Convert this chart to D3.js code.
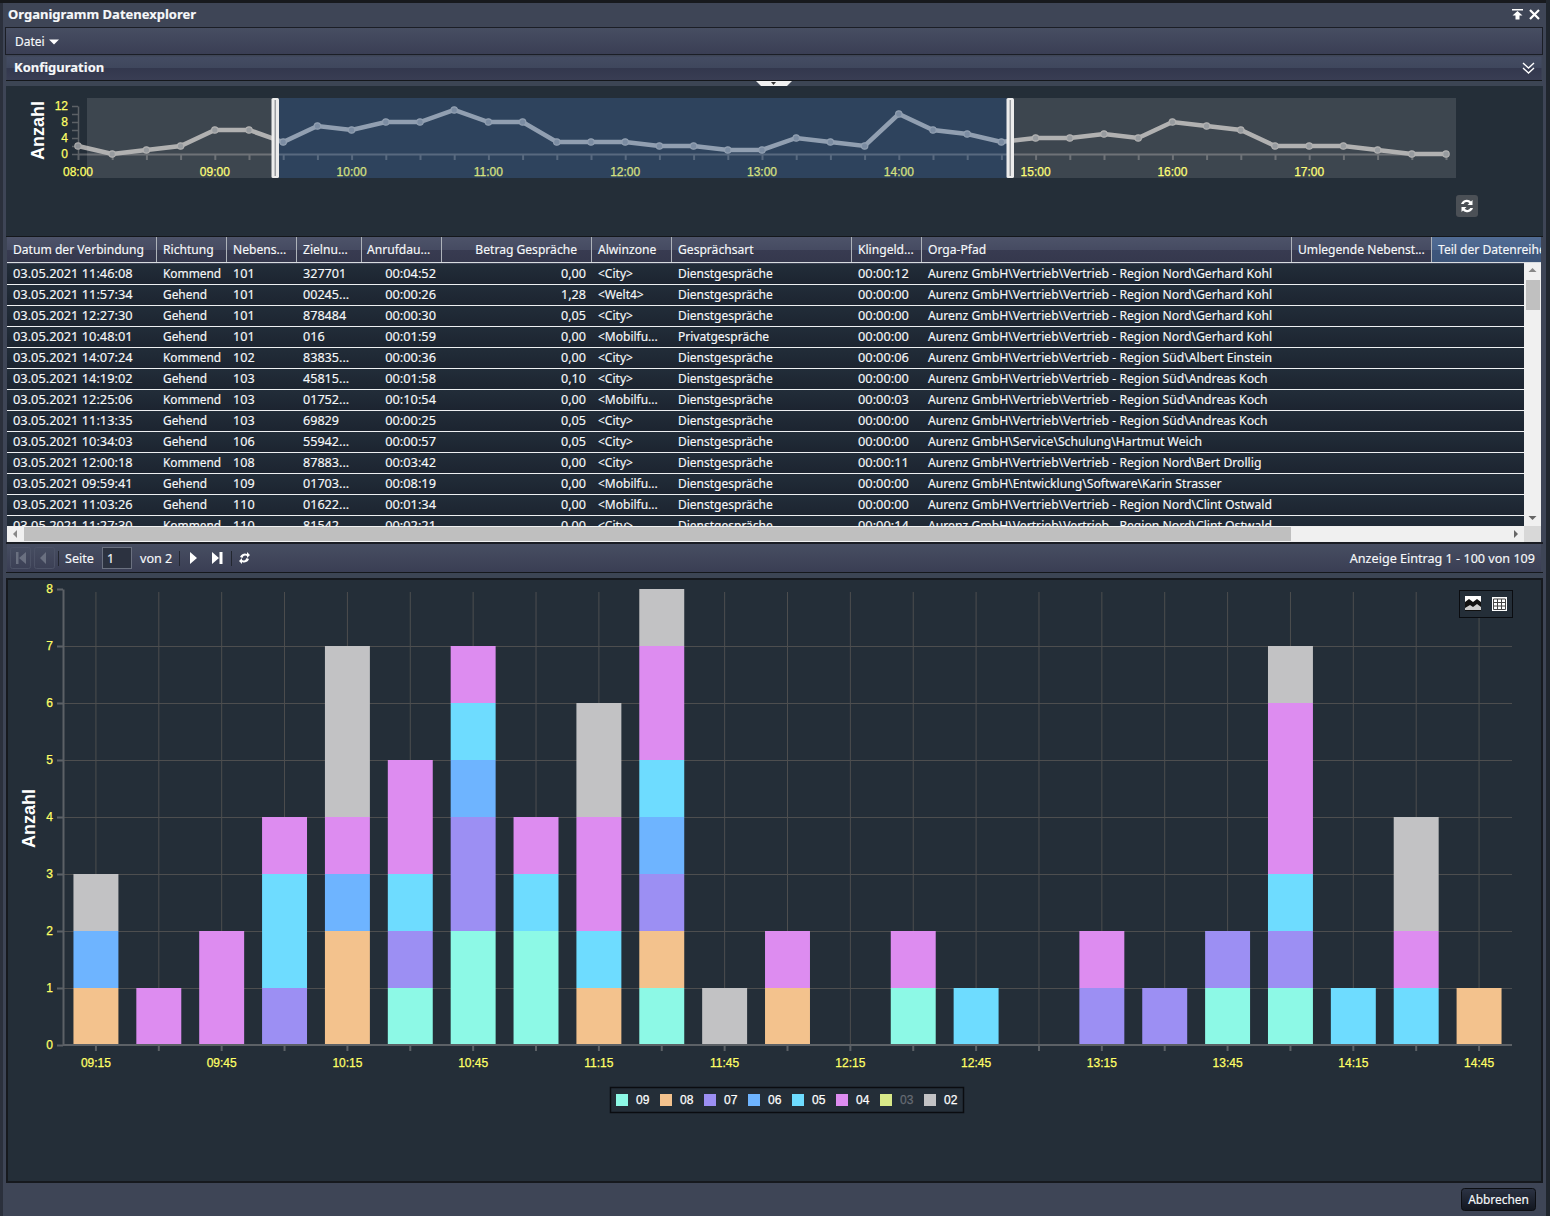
<!DOCTYPE html>
<html>

<head>
    <meta charset="utf-8">
    <title>Organigramm Datenexplorer</title>
    <script src="https://d3js.org/d3.v7.min.js"></script>
    <style>
        body {
            margin: 0;
            background: #3e4556;
        }

        svg {
            display: block;
        }

        .ui {
            font-family: "Noto Sans", sans-serif;
            font-size: 12.6px;
            fill: #f6f8fa;
            stroke: #f6f8fa;
            stroke-width: 0.15px;
        }

        .chart-label {
            font-family: "Liberation Sans", Arial, sans-serif;
            font-size: 12px;
            fill: #ffff66;
            stroke: #ffff66;
            stroke-width: 0.25px;
        }

        .axis path,
        .axis line {
            stroke: #5c6166;
        }

        .grid line {
            stroke: #4d4e4f;
        }

        .grid path {
            display: none;
        }
    </style>
</head>

<body>
    <svg width="1550" height="1216"></svg>
    <script>
        // Overview line: calls per 15 minutes
        const overviewTimes = [
            "08:00", "08:15", "08:30", "08:45", "09:00", "09:15", "09:30", "09:45", "10:00", "10:15", "10:30",
            "10:45", "11:00", "11:15", "11:30", "11:45", "12:00", "12:15", "12:30", "12:45", "13:00", "13:15",
            "13:30", "13:45", "14:00", "14:15", "14:30", "14:45", "15:00", "15:15", "15:30", "15:45", "16:00",
            "16:15", "16:30", "16:45", "17:00", "17:15", "17:30", "17:45", "18:00"
        ];
        const overviewValues = [
            2, 0, 1, 2, 6, 6, 3, 7, 6, 8, 8, 11, 8, 8, 3, 3, 3, 2, 2, 1, 1, 4, 3, 2, 10, 6, 5, 3, 4, 4, 5, 4, 8, 7, 6, 2, 2, 2, 1, 0, 0
        ];
        const overviewHours = ["08:00", "09:00", "10:00", "11:00", "12:00", "13:00", "14:00", "15:00", "16:00", "17:00"];
        const overviewTicks = [0, 4, 8, 12];

        // Stacked bars
        const barTimes = [
            "09:15", "09:30", "09:45", "10:00", "10:15", "10:30", "10:45", "11:00", "11:15", "11:30", "11:45", "12:00",
            "12:15", "12:30", "12:45", "13:00", "13:15", "13:30", "13:45", "14:00", "14:15", "14:30", "14:45"
        ];
        const series09 = [0, 0, 0, 0, 0, 1, 2, 2, 0, 1, 0, 0, 0, 1, 0, 0, 0, 0, 1, 1, 0, 0, 0];
        const series08 = [1, 0, 0, 0, 2, 0, 0, 0, 1, 1, 0, 1, 0, 0, 0, 0, 0, 0, 0, 0, 0, 0, 1];
        const series07 = [0, 0, 0, 1, 0, 1, 2, 0, 0, 1, 0, 0, 0, 0, 0, 0, 1, 1, 1, 1, 0, 0, 0];
        const series06 = [1, 0, 0, 0, 1, 0, 1, 0, 0, 1, 0, 0, 0, 0, 0, 0, 0, 0, 0, 0, 0, 0, 0];
        const series05 = [0, 0, 0, 2, 0, 1, 1, 1, 1, 1, 0, 0, 0, 0, 1, 0, 0, 0, 0, 1, 1, 1, 0];
        const series04 = [0, 1, 2, 1, 1, 2, 1, 1, 2, 2, 0, 1, 0, 1, 0, 0, 1, 0, 0, 3, 0, 1, 0];
        const series03 = [0, 0, 0, 0, 0, 0, 0, 0, 0, 0, 0, 0, 0, 0, 0, 0, 0, 0, 0, 0, 0, 0, 0];
        const series02 = [1, 0, 0, 0, 3, 0, 0, 0, 2, 1, 1, 0, 0, 0, 0, 0, 0, 0, 0, 1, 0, 2, 0];
        const seriesNames = ["09", "08", "07", "06", "05", "04", "03", "02"];
        const seriesValues = [series09, series08, series07, series06, series05, series04, series03, series02];
        const seriesColors = ["#8df9e6", "#f3c28d", "#9c8ff3", "#6eb4ff", "#6edcff", "#dd8cf0", "#d8e888", "#c2c2c4"];

        // Table columns
        const headers = [
            "Datum der Verbindung", "Richtung", "Nebens...", "Zielnu...", "Anrufdau...", "Betrag Gespräche", "Alwinzone",
            "Gesprächsart", "Klingeld...", "Orga-Pfad", "Umlegende Nebenst...", "Teil der Datenreihe"
        ];
        const callDates = [
            "03.05.2021 11:46:08", "03.05.2021 11:57:34", "03.05.2021 12:27:30", "03.05.2021 10:48:01", "03.05.2021 14:07:24",
            "03.05.2021 14:19:02", "03.05.2021 12:25:06", "03.05.2021 11:13:35", "03.05.2021 10:34:03", "03.05.2021 12:00:18",
            "03.05.2021 09:59:41", "03.05.2021 11:03:26", "03.05.2021 11:27:30"
        ];
        const directions = ["Kommend", "Gehend", "Gehend", "Gehend", "Kommend", "Gehend", "Kommend", "Gehend", "Gehend", "Kommend", "Gehend", "Gehend", "Kommend"];
        const extensions = ["101", "101", "101", "101", "102", "103", "103", "103", "106", "108", "109", "110", "110"];
        const targets = ["327701", "00245...", "878484", "016", "83835...", "45815...", "01752...", "69829", "55942...", "87883...", "01703...", "01622...", "81542..."];
        const durations = ["00:04:52", "00:00:26", "00:00:30", "00:01:59", "00:00:36", "00:01:58", "00:10:54", "00:00:25", "00:00:57", "00:03:42", "00:08:19", "00:01:34", "00:02:21"];
        const amounts = ["0,00", "1,28", "0,05", "0,00", "0,00", "0,10", "0,00", "0,05", "0,05", "0,00", "0,00", "0,00", "0,00"];
        const zones = ["<City>", "<Welt4>", "<City>", "<Mobilfu...", "<City>", "<City>", "<Mobilfu...", "<City>", "<City>", "<City>", "<Mobilfu...", "<Mobilfu...", "<City>"];
        const callTypes = [
            "Dienstgespräche", "Dienstgespräche", "Dienstgespräche", "Privatgespräche", "Dienstgespräche", "Dienstgespräche", "Dienstgespräche",
            "Dienstgespräche", "Dienstgespräche", "Dienstgespräche", "Dienstgespräche", "Dienstgespräche", "Dienstgespräche"
        ];
        const ringTimes = ["00:00:12", "00:00:00", "00:00:00", "00:00:00", "00:00:06", "00:00:00", "00:00:03", "00:00:00", "00:00:00", "00:00:11", "00:00:00", "00:00:00", "00:00:14"];
        const orgPaths = [
            "Aurenz GmbH\\Vertrieb\\Vertrieb - Region Nord\\Gerhard Kohl",
            "Aurenz GmbH\\Vertrieb\\Vertrieb - Region Nord\\Gerhard Kohl",
            "Aurenz GmbH\\Vertrieb\\Vertrieb - Region Nord\\Gerhard Kohl",
            "Aurenz GmbH\\Vertrieb\\Vertrieb - Region Nord\\Gerhard Kohl",
            "Aurenz GmbH\\Vertrieb\\Vertrieb - Region Süd\\Albert Einstein",
            "Aurenz GmbH\\Vertrieb\\Vertrieb - Region Süd\\Andreas Koch",
            "Aurenz GmbH\\Vertrieb\\Vertrieb - Region Süd\\Andreas Koch",
            "Aurenz GmbH\\Vertrieb\\Vertrieb - Region Süd\\Andreas Koch",
            "Aurenz GmbH\\Service\\Schulung\\Hartmut Weich",
            "Aurenz GmbH\\Vertrieb\\Vertrieb - Region Nord\\Bert Drollig",
            "Aurenz GmbH\\Entwicklung\\Software\\Karin Strasser",
            "Aurenz GmbH\\Vertrieb\\Vertrieb - Region Nord\\Clint Ostwald",
            "Aurenz GmbH\\Vertrieb\\Vertrieb - Region Nord\\Clint Ostwald"
        ];
        const tableColumns = [callDates, directions, extensions, targets, durations, amounts, zones, callTypes, ringTimes, orgPaths];

        const svg = d3.select("svg");
        const defs = svg.append("defs");

        // helpers
        function gradient(id, stops) {
            const g = defs.append("linearGradient").attr("id", id).attr("x1", 0).attr("y1", 0).attr("x2", 0).attr("y2", 1);
            stops.forEach(s => g.append("stop").attr("offset", s[0]).attr("stop-color", s[1]));
        }
        function box(parent, x, y, w, h, fill) {
            return parent.append("rect").attr("x", x).attr("y", y).attr("width", w).attr("height", h).attr("fill", fill);
        }
        function label(parent, x, y, str, cls) {
            return parent.append("text").attr("class", cls || "ui").attr("x", x).attr("y", y).text(str);
        }
        function clip(id, x, y, w, h) {
            defs.append("clipPath").attr("id", id).append("rect").attr("x", x).attr("y", y).attr("width", w).attr("height", h);
        }

        gradient("barGrad", [[0, "#474e62"], [1, "#3a3e54"]]);
        gradient("splitGrad", [[0, "#444c63"], [0.46, "#3f475d"], [0.5, "#33384e"], [1, "#393d53"]]);
        gradient("headGrad", [[0, "#4d5369"], [0.5, "#464b62"], [0.52, "#383b51"], [1, "#35384d"]]);
        gradient("headBlue", [[0, "#516c94"], [0.5, "#4a648c"], [0.52, "#3e567c"], [1, "#3c5478"]]);
        gradient("rowGrad", [[0, "#222d39"], [1, "#1c2430"]]);
        gradient("btnGrad", [[0, "#2c3344"], [1, "#12161f"]]);

        // ---- window chrome ----
        const chrome = svg.append("g");
        box(chrome, 0, 0, 1550, 1216, "#3e4556");
        box(chrome, 0, 0, 1550, 3, "#17191d");
        box(chrome, 1546, 0, 4, 1216, "#20262e");
        box(chrome, 0, 3, 3, 1213, "#2b303c");
        label(chrome, 8, 19, "Organigramm Datenexplorer").style("font-weight", "bold").style("font-size", "13px");

        // pin and close icons
        chrome.append("path").attr("d", "M1512 9h11v1.5h-11zM1517.5 11l5 4.5h-3v4h-4v-4h-3z").attr("fill", "#fff");
        chrome.append("path").attr("d", "M1530 10l9 9M1539 10l-9 9").attr("stroke", "#fff").attr("stroke-width", 2.2);

        // menu bar
        box(chrome, 5.5, 27.5, 1537, 27, "url(#barGrad)").attr("stroke", "#1b1e26");
        label(chrome, 15, 46, "Datei").style("font-size", "12px");
        chrome.append("path").attr("d", "M49 39.500h10l-5 5z").attr("fill", "#fff");

        // Konfiguration header
        box(chrome, 6.5, 56.5, 1535, 24, "url(#splitGrad)").attr("stroke", "none");
        box(chrome, 6, 80, 1536, 1, "#14171b");
        label(chrome, 14, 72, "Konfiguration").style("font-weight", "bold").style("font-size", "13px");
        chrome.append("path").attr("d", "M1523 63l5.5 5 5.5-5M1523 68l5.5 5 5.5-5").attr("fill", "none").attr("stroke", "#fff").attr("stroke-width", 1.4);
        box(chrome, 6, 81, 1536, 5, "#3c4554");
        chrome.append("path").attr("d", "M756 81h36l-5 5h-26z").attr("fill", "#f0f0f0");
        chrome.append("path").attr("d", "M771 82h5l-2.5 3z").attr("fill", "#333");

        // dark body of the upper panel
        box(chrome, 6, 86, 1537, 151, "#242e38");

        // ---- overview chart ----
        const overview = svg.append("g");
        const ovX = d3.scalePoint().domain(overviewTimes).range([78, 1446]);
        const ovY = d3.scaleLinear().domain([0, 12]).range([154, 106]);

        overview.append("g").attr("class", "axis").attr("transform", "translate(0,154)")
            .call(d3.axisBottom(ovX).tickSize(6).tickSizeOuter(0).tickFormat(""))
            .call(g => g.selectAll("path,line").attr("stroke-width", 2));
        overview.append("g").attr("class", "axis").attr("transform", "translate(78,0)")
            .call(d3.axisLeft(ovY).tickValues(d3.range(0, 13, 2)).tickSize(6).tickSizeOuter(0).tickFormat(""))
            .call(g => g.selectAll("path,line").attr("stroke-width", 1.5));

        overviewTicks.forEach(v => {
            label(overview, 68, ovY(v) + 3.5, v, "chart-label").attr("text-anchor", "end");
        });
        overviewHours.forEach(t => {
            label(overview, ovX(t), 176, t, "chart-label").attr("text-anchor", "middle");
        });

        const ovLine = d3.line().x((d, i) => ovX(overviewTimes[i])).y(d => ovY(d));
        overview.append("path").attr("d", ovLine(overviewValues))
            .attr("fill", "none").attr("stroke", "#a9a9a9").attr("stroke-width", 4.5);
        overview.selectAll("circle").data(overviewValues).join("circle")
            .attr("cx", (d, i) => ovX(overviewTimes[i])).attr("cy", d => ovY(d)).attr("r", 3.2)
            .attr("fill", "#8b8f94").attr("stroke", "#a9a9a9").attr("stroke-width", 1.2);
        overview.append("text").attr("transform", "translate(44,160) rotate(-90)")
            .attr("font-family", "Liberation Sans").attr("font-weight", "bold").attr("font-size", 18).attr("fill", "#fff").text("Anzahl");

        // shaded range overlays on top of the line
        box(overview, 87, 98, 185, 80, "#f0f0f0").attr("fill-opacity", 0.125);
        box(overview, 1014, 98, 442, 80, "#f0f0f0").attr("fill-opacity", 0.125);
        box(overview, 279, 98, 728, 80, "#4c82cc").attr("fill-opacity", 0.25);
        [271.5, 1006.5].forEach(x => {
            box(overview, x, 98, 7.5, 80, "#ececec").attr("rx", 1.5);
            box(overview, x + 3, 100, 1.5, 76, "#9a9da2");
        });

        // refresh button
        box(overview, 1456, 195, 22, 22, "#4b5056").attr("rx", 3);
        overview.append("path").attr("d", "M1461 204a6 6 0 0 1 10-2.5l1.5-1.5v5h-5l1.8-1.8a3.4 3.4 0 0 0-5.6.8zM1473 208a6 6 0 0 1-10 2.5l-1.5 1.5v-5h5l-1.8 1.8a3.4 3.4 0 0 0 5.6-.8z").attr("fill", "#fff");

        // ---- table ----
        const colEdges = [7, 156, 226, 296, 361, 441, 591, 671, 851, 921, 1291, 1431, 1541];
        const headX = [13, 163, 233, 303, 367, 577, 598, 678, 858, 928, 1298, 1438];
        const table = svg.append("g");
        clip("headClip", 7, 237, 1534, 26);
        clip("rowClip", 7, 263, 1517, 263);

        const head = table.append("g").attr("clip-path", "url(#headClip)");
        box(head, 7, 237, 1534, 25, "url(#headGrad)");
        box(head, 1432, 237, 109, 25, "url(#headBlue)");
        box(table, 6, 236, 1537, 1, "#14171b");
        headers.forEach((h, i) => {
            const t = label(head, headX[i], 254, h).style("font-size", "12.1px");
            if (i === 5) t.attr("text-anchor", "end");
            if (i > 0) box(head, colEdges[i], 237, 1, 25, "#aeb3ba");
        });
        box(table, 7, 262, 1534, 1, "#d8dce0");

        const rowY = d3.scaleBand().domain(d3.range(callDates.length)).range([264, 264 + 21 * callDates.length]);
        const body = table.append("g").attr("clip-path", "url(#rowClip)");
        body.selectAll("rect").data(callDates).join("rect")
            .attr("x", 7).attr("y", (d, i) => rowY(i)).attr("width", 1517).attr("height", rowY.bandwidth() - 1)
            .attr("fill", "url(#rowGrad)");
        body.selectAll("line").data(callDates).join("line")
            .attr("x1", 7).attr("x2", 1524)
            .attr("y1", (d, i) => rowY(i) + 20.5).attr("y2", (d, i) => rowY(i) + 20.5)
            .attr("stroke", "#eef0f2");
        const colX = [13, 163, 233, 303, 436, 586, 598, 678, 858, 928];
        const colFont = [12.8, 11.9, 12.6, 12.6, 12.8, 12.6, 12, 12, 12.8, 12.2];
        tableColumns.forEach((col, c) => {
            body.append("g").selectAll("text").data(col).join("text")
                .attr("class", "ui")
                .style("font-size", colFont[c] + "px")
                .attr("x", colX[c])
                .attr("y", (d, i) => rowY(i) + 14)
                .attr("text-anchor", c === 4 || c === 5 ? "end" : "start")
                .text(d => d);
        });

        // scrollbars
        box(table, 1524, 263, 17, 263, "#f0f0f0");
        box(table, 1526, 280, 14, 30, "#c0c0c0");
        table.append("path").attr("d", "M1532.5 268l4 4h-8z").attr("fill", "#888");
        table.append("path").attr("d", "M1532.5 520l4-4h-8z").attr("fill", "#666");
        box(table, 7, 526, 1517, 16, "#f0f0f0");
        box(table, 1524, 526, 17, 16, "#d8d8d8");
        box(table, 24, 527, 1267, 14, "#bfbfbf");
        table.append("path").attr("d", "M13 534l4-4v8z").attr("fill", "#888");
        table.append("path").attr("d", "M1518 534l-4-4v8z").attr("fill", "#666");
        box(table, 6, 542, 1537, 2, "#1a1d24");

        // pager
        const pager = svg.append("g");
        box(pager, 7, 544, 1534, 28, "url(#barGrad)");
        box(pager, 6, 572, 1537, 1, "#15181c");
        box(pager, 6, 573, 1537, 6, "#3c4554");
        box(pager, 10.5, 547.5, 20, 21, "none").attr("stroke", "#4c5266").attr("rx", 2);
        box(pager, 34.5, 547.5, 20, 21, "none").attr("stroke", "#4c5266").attr("rx", 2);
        pager.append("path").attr("d", "M16 552h2.5v12H16zM26 552v12l-7-6zM46 552v12l-6-6z").attr("fill", "#6a7080");
        [58, 179, 231].forEach(x => box(pager, x, 551, 1, 15, "#22262f"));
        label(pager, 65, 563, "Seite");
        box(pager, 102.5, 547.5, 29, 21, "#2c3240").attr("stroke", "#6b7180");
        label(pager, 107, 563, "1");
        label(pager, 140, 563, "von 2");
        pager.append("path").attr("d", "M190 552l7 6-7 6zM212 552l7 6-7 6zM219.500 552h3v12h-3z").attr("fill", "#fff");
        pager.append("path").attr("d", "M240 557a5 5 0 0 1 7-3v-2l3 3-3 3v-2a3 3 0 0 0-4.500 2zM249 559a5 5 0 0 1-7 3v2l-3-3 3-3v2a3 3 0 0 0 4.500-2z").attr("fill", "#fff");
        label(pager, 1535, 563, "Anzeige Eintrag 1 - 100 von 109").attr("text-anchor", "end");

        // ---- stacked bar chart ----
        box(svg, 7, 579, 1535, 603, "#242e38").attr("stroke", "#16191e").attr("stroke-width", 2);

        const x = d3.scaleBand().domain(barTimes).range([64.5, 1510.5]).paddingInner(0.285).paddingOuter(0.1425);
        const y = d3.scaleLinear().domain([0, 8]).range([1045, 589]);
        const chart = svg.append("g");

        // grid
        chart.append("g").attr("class", "grid").attr("transform", "translate(0,1045)")
            .call(d3.axisBottom(x).tickSize(-453).tickFormat(""));
        chart.append("g").attr("class", "grid").attr("transform", "translate(63,0)")
            .call(d3.axisLeft(y).tickValues(d3.range(1, 8)).tickSize(-1449).tickFormat(""));

        const rows = barTimes.map((t, i) => {
            const row = { time: t };
            seriesNames.forEach((n, s) => { row[n] = seriesValues[s][i]; });
            return row;
        });
        const stacked = d3.stack().keys(seriesNames)(rows);

        chart.append("g").selectAll("g").data(stacked).join("g")
            .attr("fill", (d, i) => seriesColors[i])
            .selectAll("rect").data(d => d).join("rect")
            .attr("x", d => x(d.data.time))
            .attr("y", d => y(d[1]))
            .attr("width", x.bandwidth())
            .attr("height", d => y(d[0]) - y(d[1]));

        // axes
        const xAxis = chart.append("g").attr("class", "axis").attr("transform", "translate(0,1045)")
            .call(d3.axisBottom(x).tickSize(6).tickSizeOuter(0).tickFormat((d, i) => (i % 2 === 0 ? d : "")));
        xAxis.selectAll("path,line").attr("stroke-width", 2);
        xAxis.select("path").attr("d", "M63,0H1512");
        xAxis.selectAll("text").attr("class", "chart-label").attr("dy", 0).attr("y", 22);

        const yAxis = chart.append("g").attr("class", "axis").attr("transform", "translate(63,0)")
            .call(d3.axisLeft(y).ticks(8).tickSize(6).tickSizeOuter(0));
        yAxis.selectAll("path,line").attr("stroke-width", 2);
        yAxis.selectAll("text").attr("class", "chart-label").attr("x", -10).attr("dy", 3.5);

        chart.append("text").attr("transform", "translate(35,848) rotate(-90)")
            .attr("font-family", "Liberation Sans").attr("font-weight", "bold").attr("font-size", 18).attr("fill", "#fff").text("Anzahl");

        // legend
        const legend = chart.append("g");
        box(legend, 610.5, 1087.5, 353, 25, "none").attr("stroke", "#0a0c10").attr("stroke-width", 1.5);
        const legendX = d3.scalePoint().domain(seriesNames).range([616, 924]);
        seriesNames.forEach((n, i) => {
            box(legend, legendX(n), 1094, 12, 12, seriesColors[i]);
            const c = n === "03" ? "#666c74" : "#fff";
            label(legend, legendX(n) + 20, 1104, n, "chart-label").style("fill", c).style("stroke", c);
        });

        // image / table toggle
        const tools = chart.append("g");
        box(tools, 1459.5, 590.5, 53, 27, "#242e38").attr("stroke", "#0a0c10");
        box(tools, 1465, 596, 16, 15, "#fff");
        tools.append("path").attr("d", "M1465 611v-9l4-3 4 3 4-3 4 3v9z").attr("fill", "#111");
        tools.append("path").attr("d", "M1465 608l5-3 3 2 4-3 4 3v3h-16z").attr("fill", "#ccc");
        box(tools, 1492, 597, 15, 14, "#fff");
        tools.append("path").attr("d", "M1493.500 599h12v10.500h-12zM1497.500 599v10.500M1501.500 599v10.500M1493.500 602.500h12M1493.500 606h12").attr("fill", "none").attr("stroke", "#444").attr("stroke-width", 1);

        // cancel button
        box(svg, 1461.5, 1188.5, 74, 22, "url(#btnGrad)").attr("stroke", "#0c0e12").attr("rx", 3);
        label(svg, 1498.500, 1204, "Abbrechen").attr("text-anchor", "middle").style("font-size", "11.9px");
    </script>
</body>

</html>
